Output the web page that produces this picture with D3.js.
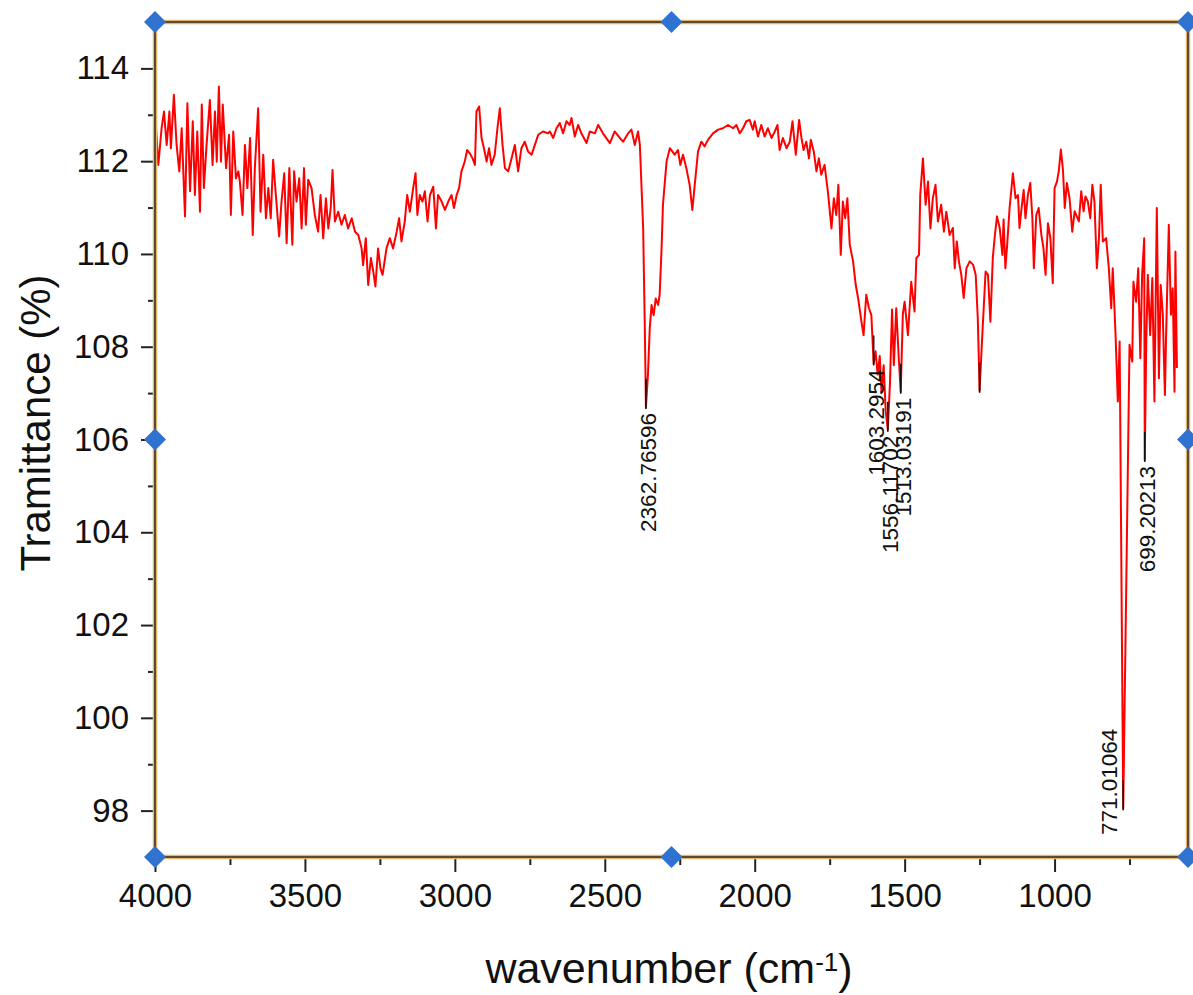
<!DOCTYPE html>
<html>
<head>
<meta charset="utf-8">
<script src="https://cdn.jsdelivr.net/npm/d3@7/dist/d3.min.js"></script>
<style>
  body { margin: 0; background: #fff; }
  text { font-family: "Liberation Sans", Arial, sans-serif; fill: #111; }
</style>
</head>
<body>
<script>
// FTIR spectrum - wavenumber (cm-1) against transmittance (%)

var wavenumber = [
  4000, 3989, 3978, 3970, 3961, 3952, 3947, 3937, 3928, 3919, 3911, 3900, 3892, 3883, 3874, 3867,
  3859, 3850, 3844, 3837, 3828, 3817, 3808, 3800, 3794, 3787, 3780, 3774, 3763, 3753, 3747, 3739,
  3730, 3722, 3717, 3708, 3700, 3692, 3683, 3674, 3667, 3656, 3648, 3639, 3630, 3622, 3614, 3606,
  3597, 3586, 3578, 3569, 3561, 3552, 3542, 3536, 3528, 3519, 3511, 3503, 3497, 3489, 3478, 3467,
  3456, 3448, 3439, 3430, 3422, 3414, 3408, 3400, 3389, 3378, 3367, 3356, 3344, 3333, 3322, 3311,
  3306, 3297, 3289, 3280, 3272, 3265, 3256, 3248, 3241, 3228, 3217, 3206, 3194, 3186, 3178, 3167,
  3159, 3150, 3139, 3131, 3125, 3117, 3108, 3100, 3091, 3083, 3072, 3063, 3056, 3044, 3033, 3022,
  3011, 3003, 2994, 2986, 2978, 2967, 2959, 2950, 2941, 2933, 2928, 2919, 2911, 2903, 2894, 2886,
  2878, 2867, 2858, 2850, 2841, 2833, 2822, 2811, 2800, 2789, 2778, 2767, 2756, 2744, 2733, 2722,
  2706, 2689, 2683, 2672, 2661, 2650, 2639, 2628, 2617, 2611, 2600, 2589, 2578, 2561, 2550, 2533,
  2522, 2506, 2483, 2467, 2450, 2439, 2422, 2411, 2400, 2389, 2383, 2372, 2366, 2362.76596, 2356, 2350,
  2344, 2337, 2330, 2322, 2317, 2311, 2306, 2294, 2283, 2275, 2267, 2256, 2248, 2239, 2228, 2217,
  2208, 2200, 2189, 2178, 2167, 2156, 2139, 2122, 2106, 2089, 2072, 2061, 2050, 2039, 2028, 2017,
  2006, 2000, 1989, 1978, 1967, 1956, 1944, 1933, 1924, 1917, 1906, 1894, 1883, 1874, 1863, 1852,
  1844, 1837, 1828, 1819, 1813, 1803, 1794, 1786, 1778, 1767, 1756, 1744, 1736, 1728, 1721, 1713,
  1706, 1698, 1691, 1683, 1672, 1663, 1655, 1644, 1637, 1628, 1619, 1611, 1603.2954, 1597, 1590, 1583,
  1577, 1570, 1563, 1556.11702, 1549, 1542, 1536, 1528, 1520, 1513.03191, 1506, 1500, 1489, 1478, 1467, 1461,
  1452, 1448, 1439, 1430, 1422, 1414, 1406, 1397, 1389, 1378, 1369, 1361, 1350, 1339, 1333, 1326,
  1319, 1311, 1303, 1294, 1283, 1272, 1263, 1256, 1250, 1241, 1230, 1222, 1214, 1206, 1200, 1192,
  1183, 1174, 1170, 1164, 1158, 1150, 1139, 1130, 1122, 1117, 1110, 1103, 1097, 1089, 1081, 1074,
  1069, 1061, 1053, 1044, 1037, 1030, 1022, 1014, 1006, 1000, 992, 986, 979, 972, 966, 959,
  950, 941, 933, 926, 919, 911, 903, 897, 889, 881, 874, 867, 859, 852, 846, 839,
  828, 819, 811, 806, 797, 789, 783, 771.01064, 750, 741, 737, 728, 721, 714, 708, 701,
  699.20213, 694, 689, 681, 674, 667, 659, 652, 646, 639, 632, 628, 619, 612, 606, 600,
  597, 592
];

var transmittance = [
  113.07, 111.92, 112.71, 113.07, 112.35, 113.07, 112.28, 113.43, 112.35, 111.78, 112.71, 110.81, 113.25, 111.35, 112.86, 111.27,
  112.64, 110.91, 113.22, 111.42, 112.35, 113.32, 111.92, 113.07, 111.99, 113.61, 111.99, 113.22, 111.85, 112.57, 110.84, 112.64,
  111.63, 111.78, 111.56, 110.84, 112.35, 111.42, 112.50, 110.41, 111.85, 113.14, 110.91, 112.14, 110.77, 111.42, 110.77, 112.03,
  111.27, 110.38, 111.13, 111.74, 110.23, 111.85, 110.20, 111.78, 111.13, 111.63, 110.55, 111.85, 110.63, 111.60, 111.42, 110.84,
  110.48, 111.27, 110.34, 111.20, 110.55, 110.99, 111.81, 110.70, 110.91, 110.63, 110.84, 110.55, 110.77, 110.48, 110.41, 110.12,
  109.76, 110.34, 109.33, 109.91, 109.62, 109.30, 110.12, 109.69, 109.55, 110.12, 110.34, 110.12, 110.48, 110.77, 110.27, 110.70,
  111.27, 110.91, 111.42, 111.74, 110.84, 111.27, 111.13, 111.35, 110.70, 111.27, 111.45, 110.55, 111.27, 111.13, 110.95, 111.13,
  111.27, 110.99, 111.27, 111.42, 111.78, 111.99, 112.24, 112.17, 112.06, 111.92, 113.07, 113.18, 112.50, 112.28, 111.99, 112.28,
  111.92, 112.14, 112.71, 113.14, 112.35, 111.85, 111.78, 112.06, 112.35, 111.78, 112.28, 112.42, 112.21, 112.14, 112.35, 112.57,
  112.64, 112.60, 112.64, 112.50, 112.71, 112.82, 112.60, 112.86, 112.78, 112.93, 112.53, 112.78, 112.60, 112.39, 112.64, 112.60,
  112.78, 112.60, 112.39, 112.64, 112.50, 112.42, 112.60, 112.68, 112.35, 112.64, 112.35, 110.55, 108.20, 106.70, 107.40, 108.40,
  108.90, 108.68, 109.04, 108.90, 109.12, 110.05, 111.06, 111.99, 112.28, 112.21, 112.14, 112.24, 111.92, 112.14, 111.85, 111.49,
  110.95, 111.49, 112.21, 112.42, 112.32, 112.46, 112.60, 112.68, 112.71, 112.78, 112.71, 112.78, 112.60, 112.71, 112.86, 112.89,
  112.68, 112.86, 112.53, 112.78, 112.53, 112.71, 112.50, 112.64, 112.78, 112.24, 112.50, 112.28, 112.42, 112.86, 112.14, 112.89,
  112.50, 112.24, 112.42, 112.06, 112.46, 112.21, 111.78, 112.06, 111.71, 111.92, 111.35, 110.55, 111.20, 110.84, 111.49, 109.98,
  111.13, 110.77, 111.20, 110.20, 109.84, 109.33, 109.04, 108.54, 108.25, 109.12, 108.83, 108.68, 107.64, 107.90, 107.40, 107.80,
  107.00, 107.60, 106.60, 106.21, 107.20, 108.80, 107.60, 108.83, 107.80, 107.03, 108.70, 108.97, 108.25, 109.40, 108.76, 109.91,
  109.98, 111.27, 112.06, 111.06, 111.56, 110.55, 111.20, 111.49, 110.70, 111.06, 110.48, 110.91, 110.41, 110.56, 109.69, 110.27,
  109.84, 109.55, 109.05, 109.69, 109.84, 109.77, 109.55, 108.61, 107.05, 108.25, 109.62, 109.55, 108.54, 109.91, 110.34, 110.81,
  110.56, 109.98, 110.74, 109.69, 110.20, 110.99, 111.74, 111.20, 111.27, 110.56, 110.99, 111.38, 110.77, 111.27, 111.53, 110.77,
  109.69, 110.84, 110.99, 110.41, 110.12, 109.55, 110.66, 110.34, 109.37, 111.42, 111.56, 111.78, 112.25, 111.81, 110.99, 111.53,
  111.20, 110.48, 110.92, 110.81, 110.70, 111.35, 110.92, 111.24, 111.13, 110.77, 111.49, 111.13, 109.69, 110.34, 111.49, 110.27,
  110.34, 109.69, 108.83, 109.69, 108.33, 106.82, 108.11, 98.05, 108.04, 107.68, 109.40, 108.97, 109.69, 107.75, 109.55, 110.34,
  105.56, 108.20, 109.55, 108.25, 109.48, 106.82, 110.99, 107.32, 109.33, 108.69, 106.96, 108.25, 110.63, 108.69, 109.26, 107.03,
  110.05, 107.54
];

// labelled peak positions (cm-1); 1250 is marked without a label
var peakWn = [2362.76596, 1603.2954, 1556.11702, 1513.03191, 1250, 771.01064, 699.20213];
var peakText = ["2362.76596", "1603.2954", "1556.11702", "1513.03191", "", "771.01064", "699.20213"];

var xMajor = [4000, 3500, 3000, 2500, 2000, 1500, 1000];
var xMinor = [3750, 3250, 2750, 2250, 1750, 1250, 750];
var yMajor = [98, 100, 102, 104, 106, 108, 110, 112, 114];
var yMinor = [99, 101, 103, 105, 107, 109, 111, 113];

window.onload = function(){

  var W = 1193, H = 995;
  var margin = {left: 155, top: 22, right: 5, bottom: 138};
  var w = W - margin.left - margin.right, h = H - margin.top - margin.bottom;

  var svg = d3.select("body").append("svg")
    .attr("width", W)
    .attr("height", H);

  var g = svg.append("g")
    .attr("transform", "translate(" + margin.left + "," + margin.top + ")");

  var x = d3.scaleLinear().domain([4000, 555]).range([0, w]);
  var y = d3.scaleLinear().domain([97, 115]).range([h, 0]);

  var spectrum = wavenumber.map(function(d, i){ return {wn: d, t: transmittance[i]}; });

  // axes - major ticks with labels, minor ticks without
  var yAxis = g.append("g").attr("class", "y axis")
    .call(d3.axisLeft(y).tickValues(yMajor).tickSize(14).tickPadding(12).tickFormat(d3.format("d")));
  var yAxisMinor = g.append("g").attr("class", "y axis minor")
    .call(d3.axisLeft(y).tickValues(yMinor).tickSize(7).tickFormat(""));
  var xAxis = g.append("g").attr("class", "x axis")
    .attr("transform", "translate(0," + h + ")")
    .call(d3.axisBottom(x).tickValues(xMajor).tickSize(15).tickPadding(12).tickFormat(d3.format("d")));
  var xAxisMinor = g.append("g").attr("class", "x axis minor")
    .attr("transform", "translate(0," + h + ")")
    .call(d3.axisBottom(x).tickValues(xMinor).tickSize(8).tickFormat(""));

  g.selectAll(".axis .domain").remove();
  g.selectAll(".axis .tick line").attr("stroke", "#222").attr("stroke-width", 2);
  g.selectAll(".axis .tick text")
    .style("font-size", "33px")
    .style("font-family", "'Liberation Sans', Arial, sans-serif")
    .attr("fill", "#111");

  // spectrum line
  var line = d3.line()
    .x(function(d){ return x(d.wn); })
    .y(function(d){ return y(d.t); });

  g.append("path")
    .datum(spectrum)
    .attr("d", line)
    .attr("fill", "none")
    .attr("stroke", "#ff0000")
    .attr("stroke-width", 2)
    .attr("stroke-linejoin", "round");

  // peak markers and rotated labels
  var peaks = peakWn.map(function(wn, i){
    var p = spectrum.find(function(d){ return d.wn === wn; });
    return {wn: wn, t: p.t, label: peakText[i]};
  });

  g.selectAll(".peakLine")
    .data(peaks)
    .enter()
    .append("line")
    .attr("class", "peakLine")
    .attr("x1", function(d){ return x(d.wn); })
    .attr("x2", function(d){ return x(d.wn); })
    .attr("y1", function(d){ return y(d.t) - 28; })
    .attr("y2", function(d){ return y(d.t) + 2; })
    .attr("stroke", "#111")
    .attr("stroke-width", 1.6);

  g.selectAll(".peakLabel")
    .data(peaks.filter(function(d){ return d.label !== ""; }))
    .enter()
    .append("text")
    .attr("class", "peakLabel")
    .style("font-size", "22.5px")
    .attr("dy", "0.36em")
    .attr("transform", function(d){
      var px = x(d.wn), py = y(d.t);
      // not enough room below the dip: put the label beside it
      if (py + 130 > h) return "translate(" + (px - 14) + "," + (h - 22) + ") rotate(-90)";
      return "translate(" + (px + 2) + "," + (py + 6) + ") rotate(-90)";
    })
    .attr("text-anchor", function(d){ return y(d.t) + 130 > h ? "start" : "end"; })
    .text(function(d){ return d.label; });

  // frame round the plot area
  g.append("rect")
    .attr("width", w).attr("height", h)
    .attr("fill", "none")
    .attr("stroke", "#e2b66f")
    .attr("stroke-width", 4.5);
  g.append("rect")
    .attr("width", w).attr("height", h)
    .attr("fill", "none")
    .attr("stroke", "#3b3024")
    .attr("stroke-width", 1.6);

  // blue diamond handles on the frame
  var handles = [[0, 0], [w / 2, 0], [w, 0], [0, h / 2], [w, h / 2], [0, h], [w / 2, h], [w, h]];
  g.selectAll(".handle")
    .data(handles)
    .enter()
    .append("path")
    .attr("class", "handle")
    .attr("d", "M0,-11L11,0L0,11L-11,0Z")
    .attr("transform", function(d){ return "translate(" + d[0] + "," + d[1] + ")"; })
    .attr("fill", "#2f72d0");

  // axis titles
  svg.append("text")
    .attr("x", 669)
    .attr("y", 983)
    .attr("text-anchor", "middle")
    .style("font-size", "43px")
    .text("wavenumber (cm")
    .append("tspan")
    .attr("dy", "-0.45em")
    .style("font-size", "26px")
    .text("-1")
    .select(function(){ return this.parentNode; })
    .append("tspan")
    .attr("dy", "0.3em")
    .text(")");

  svg.append("text")
    .attr("transform", "translate(50,423) rotate(-90)")
    .attr("text-anchor", "middle")
    .style("font-size", "42px")
    .text("Tramittance (%)");
};
</script>
</body>
</html>
